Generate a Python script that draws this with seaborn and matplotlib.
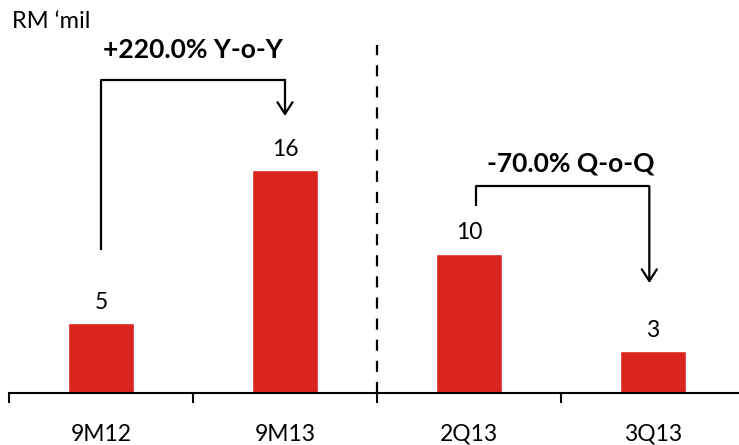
import matplotlib
matplotlib.use("Agg")
import matplotlib.pyplot as plt
import seaborn as sns
import pandas as pd

# Profit figures (RM million)
periods = ["9M12", "9M13", "2Q13", "3Q13"]
profit = [5, 16, 10, 3]
yoy_label = "+220.0% Y-o-Y"
qoq_label = "-70.0% Q-o-Q"
unit_label = "RM \u2018mil"

sns.set_theme(style="white")
plt.rcParams["font.family"] = ["Lato", "DejaVu Sans"]

W, H = 739, 445
fig = plt.figure(figsize=(W / 100, H / 100), dpi=100)
# axes spans slightly past the right edge so the last category cell is cut off
left_px, right_px, top_px, base_px = 9, 745, 45, 393
ax = fig.add_axes([left_px / W, 1 - base_px / H,
                   (right_px - left_px) / W, (base_px - top_px) / H])

df = pd.DataFrame({"period": periods, "profit": profit})
bar_red = "#DC241F"
sns.barplot(data=df, x="period", y="profit", color=bar_red, saturation=1,
            width=0.355, ax=ax)

ax.set_xlim(-0.5, 3.5)
ax.set_ylim(0, 25)
ax.set_xlabel("")
ax.set_ylabel("")
ax.set_yticks([])
for side in ("left", "right", "top"):
    ax.spines[side].set_visible(False)
ax.spines["bottom"].set_color("black")
ax.spines["bottom"].set_linewidth(1.5)

# category labels at centres, tick marks at cell boundaries
ax.set_xticks(range(len(periods)))
ax.set_xticklabels(periods, fontsize=16.5, color="black")
ax.tick_params(axis="x", which="major", length=0, pad=22)
ax.set_xticks([i - 0.5 for i in range(len(periods) + 1)], minor=True)
ax.tick_params(axis="x", which="minor", direction="out", length=7, width=1.5,
               color="black", bottom=True)

# value labels
for i, v in enumerate(profit):
    ax.text(i, v + 0.75, f"{v:g}", ha="center", va="bottom", fontsize=16.5,
            color="black")

# divider between cumulative and quarterly comparison
ax.axvline(1.5, ymin=0, ymax=1, color="black", lw=1.6,
           linestyle=(0, (5, 4.5)))

arrow_kw = dict(arrowstyle="->,head_length=0.7,head_width=0.45",
                color="black", lw=1.6, shrinkA=0, shrinkB=0)

# year-on-year bracket
yoy_x0, yoy_x1 = 0, 1
yoy_low, yoy_top, yoy_tip = 10.3, 22.5, 19.9
ax.plot([yoy_x0, yoy_x0, yoy_x1], [yoy_low, yoy_top, yoy_top],
        color="black", lw=1.6, solid_capstyle="butt", clip_on=False)
ax.annotate("", xy=(yoy_x1, yoy_tip), xytext=(yoy_x1, yoy_top),
            arrowprops=arrow_kw, annotation_clip=False)
ax.text(0.5, 24.65, yoy_label, ha="center", va="center", fontsize=19,
        fontweight="bold", color="black", clip_on=False)

# quarter-on-quarter bracket
qoq_x0, qoq_x1 = 2.04, 2.98
qoq_low, qoq_top, qoq_tip = 13.4, 14.85, 7.9
ax.plot([qoq_x0, qoq_x0, qoq_x1], [qoq_low, qoq_top, qoq_top],
        color="black", lw=1.6, solid_capstyle="butt", clip_on=False)
ax.annotate("", xy=(qoq_x1, qoq_tip), xytext=(qoq_x1, qoq_top),
            arrowprops=arrow_kw, annotation_clip=False)
ax.text(2.555, 16.5, qoq_label, ha="center", va="center", fontsize=19,
        fontweight="bold", color="black")

fig.text(12 / W, 1 - 21 / H, unit_label, ha="left", va="center", fontsize=17,
         color="black")

fig.savefig("out.png", dpi=100, facecolor="white")
